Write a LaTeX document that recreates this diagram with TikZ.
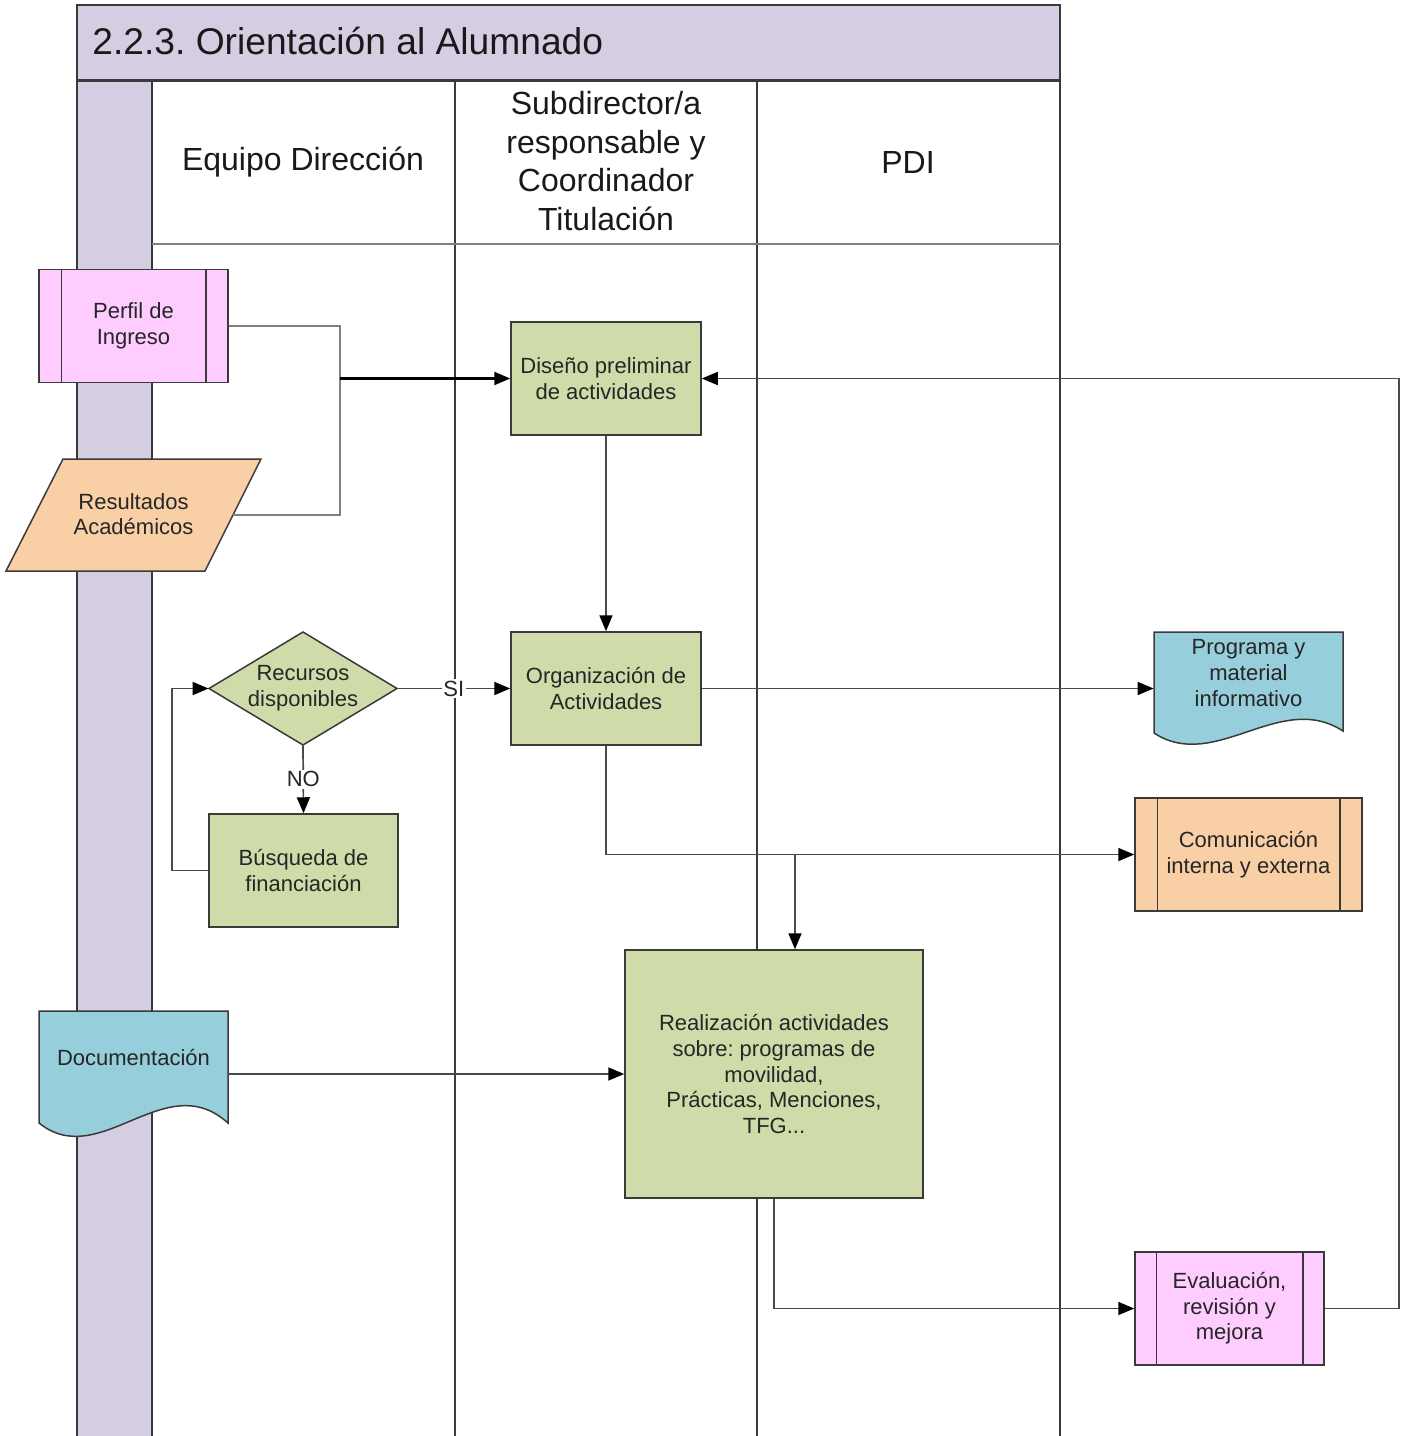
\documentclass[tikz,border=0pt]{standalone}
\usepackage{fontspec}
\setmainfont{Liberation Sans}
\frenchspacing
\usetikzlibrary{arrows.meta,shapes.geometric}
\definecolor{lav}{HTML}{D5CDE1}
\definecolor{pinkf}{HTML}{FFCCFF}
\definecolor{peach}{HTML}{F9CFA6}
\definecolor{greenf}{HTML}{CFDBA9}
\definecolor{bluef}{HTML}{97CEDB}
\definecolor{edgec}{HTML}{3A3A3A}
\definecolor{connc}{HTML}{4A4A4A}
\begin{document}
\begin{tikzpicture}[x=0.5pt,y=-0.5pt,
  box/.style={draw=edgec, line width=0.75pt, inner sep=0pt, align=center, font=\fontsize{11}{12.8}\selectfont, text=black!85},
  proc/.style={box, fill=greenf, minimum width=95pt, minimum height=56.5pt},
  subp/.style={box, fill=pinkf, minimum width=94.5pt, minimum height=56.5pt},
  txt/.style={inner sep=0pt, align=center, font=\fontsize{11}{12.8}\selectfont, text=black!85},
  shp/.style={draw=edgec, line width=0.75pt},
  conn/.style={draw=connc, line width=0.85pt},
  arr/.style={conn, -{Triangle[length=8pt,width=6.5pt,color=black]}},
  hdr/.style={font=\fontsize{16}{19.2}\selectfont, align=center, text=black!90},
  lane/.style={draw=edgec, line width=0.7pt},
  lbl/.style={fill=white, inner sep=0.8pt, font=\fontsize{11}{12.8}\selectfont, text=black!85},
]
\useasboundingbox (0,0) rectangle (1404,1436);
% frame
\fill[lav] (77,5) rectangle (1060,80);
\fill[lav] (77,80) rectangle (152,1436);
\draw[lane] (77,1436) -- (77,5) -- (1060,5) -- (1060,1436);
\draw[edgec, line width=1.5pt] (77,80) -- (1060,80);
\draw[lane] (152,80) -- (152,1436);
\draw[lane] (455,80) -- (455,1436);
\draw[lane] (757,80) -- (757,1436);
\draw[draw=gray, line width=0.6pt] (152,244) -- (1060,244);
\node[anchor=west, inner sep=0pt, font=\fontsize{18.6}{22}\selectfont, text=black!90] (title) at (92,41) {2.2.3. Orientación al Alumnado};
\node[hdr] (h1) at (303,162) {Equipo Dirección};
\node[hdr] (h2) at (606,161) {Subdirector/a\\responsable y\\Coordinador\\Titulación};
\node[hdr] (h3) at (908,162) {PDI};

% Perfil de ingreso
\node[subp] (perfil) at (133.5,326) {Perfil de\\Ingreso};
\draw[shp] ([xshift=11.5pt]perfil.north west) -- ([xshift=11.5pt]perfil.south west);
\draw[shp] ([xshift=-11.5pt]perfil.north east) -- ([xshift=-11.5pt]perfil.south east);

% Resultados
\filldraw[shp, fill=peach] (6,571) -- (63,459) -- (261,459) -- (205,571) -- cycle;
\node[txt] (resultados) at (133.5,514) {Resultados\\Académicos};
\coordinate (resE) at (233,515);

% Diseño / Organización
\node[proc] (diseno) at (606,378.5) {Diseño preliminar\\de actividades};
\node[proc] (org) at (606,688.5) {Organización de\\Actividades};

% Recursos diamond
\filldraw[shp, fill=greenf] (209,688.5) -- (303,632) -- (397,688.5) -- (303,745) -- cycle;
\node[txt, minimum width=94pt, minimum height=56.5pt] (recursos) at (303,688.5) {Recursos\\disponibles};

% Busqueda
\node[proc, minimum width=94.5pt] (busqueda) at (303.5,870.5) {Búsqueda de\\financiación};

% Programa
\filldraw[shp, fill=bluef] (1154,733) -- (1154,632) -- (1343,632) -- (1343,731)
  .. controls (1280,690) and (1215,773) .. (1154,733) -- cycle;
\node[txt, minimum width=94.5pt] (programa) at (1248.5,673) {Programa y\\material\\informativo};

% Comunicacion
\node[box, fill=peach, minimum width=113.5pt, minimum height=56.5pt] (comunic) at (1248.5,854.5) {Comunicación\\interna y externa};
\draw[shp] ([xshift=11.5pt]comunic.north west) -- ([xshift=11.5pt]comunic.south west);
\draw[shp] ([xshift=-11.5pt]comunic.north east) -- ([xshift=-11.5pt]comunic.south east);

% Realizacion
\node[proc, minimum width=149pt, minimum height=124pt] (realiz) at (774,1074) {Realización actividades\\sobre: programas de\\movilidad,\\Prácticas, Menciones,\\TFG...};

% Documentacion
\filldraw[shp, fill=bluef] (39,1123) -- (39,1011) -- (228,1011) -- (228,1123)
  .. controls (165,1066) and (100,1172) .. (39,1123) -- cycle;
\node[txt, minimum width=94.5pt] (docu) at (133.5,1057) {Documentación};

% Evaluacion
\node[subp] (eval) at (1229.5,1308.5) {Evaluación,\\revisión y\\mejora};
\draw[shp] ([xshift=11pt]eval.north west) -- ([xshift=11pt]eval.south west);
\draw[shp] ([xshift=-11pt]eval.north east) -- ([xshift=-11pt]eval.south east);

% connectors
\draw[conn, draw=gray] (perfil.east) -- (340,326) -- (340,515) -- (resE);
\draw[arr, draw=black, line width=1.1pt] (340,378.5) -- (diseno.west);
\draw[arr] (diseno.south) -- (org.north);
\draw[arr] (recursos.east) -- node[lbl] (si) {SI} (org.west);
\draw[arr] (recursos.south) -- node[lbl] (no) {NO} (busqueda.north);
\draw[arr] (busqueda.west) -- (172,870.5) |- (recursos.west);
\draw[arr] (org.east) -- (org.east -| programa.west);
\draw[arr] (org.south) |- (comunic.west);
\coordinate (j) at (795,854.5);
\draw[arr] (j) -- (j |- realiz.north);
\draw[arr] (realiz.west -| docu.east) -- (realiz.west);
\draw[arr] (realiz.south) |- (eval.west);
\coordinate (loopc) at (1399,1308.5);
\draw[arr] (eval.east) -- (loopc) |- (diseno.east);
\end{tikzpicture}
\end{document}
